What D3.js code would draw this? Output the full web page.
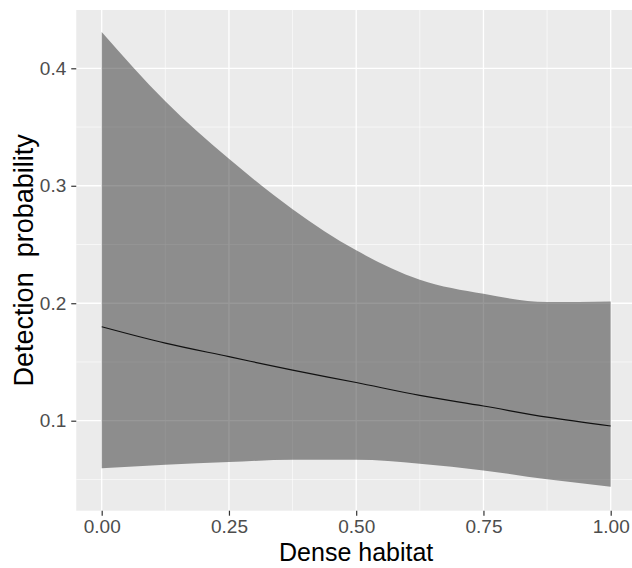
<!DOCTYPE html>
<html><head><meta charset="utf-8">
<script src="https://cdn.jsdelivr.net/npm/d3@7"></script>
<style>body{margin:0;background:#fff}svg{display:block}text{font-family:"Liberation Sans",Arial,sans-serif}</style>
</head><body>
<svg id="c" width="632" height="568"></svg>
<script>
const xs = [0, 0.125, 0.25, 0.375, 0.5, 0.625, 0.75, 0.875, 1.0];
const fitValues = [0.180, 0.166, 0.1545, 0.143, 0.1325, 0.1215, 0.1125, 0.103, 0.0955];
const upperValues = [0.431, 0.372, 0.323, 0.280, 0.245, 0.220, 0.208, 0.201, 0.2015];
const lowerValues = [0.0595, 0.0626, 0.0648, 0.0668, 0.0668, 0.0634, 0.0577, 0.0501, 0.0438];
const xTicks = [0, 0.25, 0.5, 0.75, 1.0];
const xTickLabels = ["0.00", "0.25", "0.50", "0.75", "1.00"];
const yTicks = [0.1, 0.2, 0.3, 0.4];
const yTickLabels = ["0.1", "0.2", "0.3", "0.4"];
const xMinor = [0.125, 0.375, 0.625, 0.875];
const yMinor = [0.05, 0.15, 0.25, 0.35];

const svg = d3.select("#c");
const x = d3.scaleLinear().domain([0, 1]).range([101.7, 610.7]);
const y = d3.scaleLinear().domain([0.1, 0.4]).range([420.7, 68.3]);
const px0 = x(-0.05), px1 = x(1.05), py0 = 10, py1 = 510.7;

svg.append("rect").attr("x", px0).attr("y", py0).attr("width", px1 - px0).attr("height", py1 - py0).attr("fill", "#EBEBEB");
const g = svg.append("g");
g.selectAll(".vmin").data(xMinor).join("line").attr("x1", d => x(d)).attr("x2", d => x(d)).attr("y1", py0).attr("y2", py1).attr("stroke", "#fff").attr("stroke-width", 0.6);
g.selectAll(".hmin").data(yMinor).join("line").attr("y1", d => y(d)).attr("y2", d => y(d)).attr("x1", px0).attr("x2", px1).attr("stroke", "#fff").attr("stroke-width", 0.6);
g.selectAll(".vmaj").data(xTicks).join("line").attr("x1", d => x(d)).attr("x2", d => x(d)).attr("y1", py0).attr("y2", py1).attr("stroke", "#fff").attr("stroke-width", 1.3);
g.selectAll(".hmaj").data(yTicks).join("line").attr("y1", d => y(d)).attr("y2", d => y(d)).attr("x1", px0).attr("x2", px1).attr("stroke", "#fff").attr("stroke-width", 1.3);

const data = xs.map((v, i) => ({x: v, fit: fitValues[i], lo: lowerValues[i], hi: upperValues[i]}));
const area = d3.area().x(d => x(d.x)).y0(d => y(d.lo)).y1(d => y(d.hi)).curve(d3.curveMonotoneX);
svg.append("path").datum(data).attr("d", area).attr("fill", "#1a1a1a").attr("fill-opacity", 0.45);
const line = d3.line().x(d => x(d.x)).y(d => y(d.fit)).curve(d3.curveMonotoneX);
svg.append("path").datum(data).attr("d", line).attr("fill", "none").attr("stroke", "#111").attr("stroke-width", 1.2);

// axes
const xAxis = d3.axisBottom(x).tickValues(xTicks).tickFormat((d, i) => xTickLabels[i]).tickSize(5).tickPadding(4);
const xa = svg.append("g").attr("transform", `translate(0,${py1})`).call(xAxis);
xa.select(".domain").remove();
xa.selectAll("line").attr("stroke", "#333").attr("stroke-width", 1.2);
xa.selectAll("text").attr("fill", "#4D4D4D").style("font-size", "19px").attr("font-family", null);

const yAxis = d3.axisLeft(y).tickValues(yTicks).tickFormat((d, i) => yTickLabels[i]).tickSize(5).tickPadding(5);
const ya = svg.append("g").attr("transform", `translate(${px0},0)`).call(yAxis);
ya.select(".domain").remove();
ya.selectAll("line").attr("stroke", "#333").attr("stroke-width", 1.2);
ya.selectAll("text").attr("fill", "#4D4D4D").style("font-size", "19px").attr("font-family", null);

svg.append("text").attr("x", (px0 + px1) / 2).attr("y", 561).attr("text-anchor", "middle").style("font-size", "25px").attr("fill", "#000").text("Dense habitat");
svg.append("text").attr("transform", `translate(33,${(py0 + py1) / 2}) rotate(-90)`).attr("text-anchor", "middle").style("font-size", "27px").style("white-space", "pre").attr("fill", "#000").text("Detection  probability");
</script>
</body></html>
